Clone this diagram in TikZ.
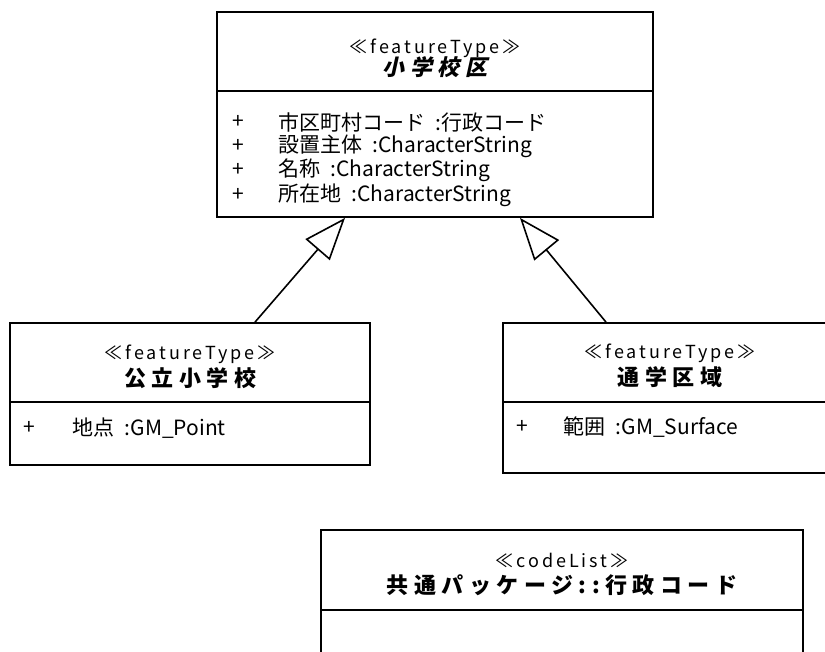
\documentclass[tikz,border=0pt]{standalone}
\usepackage{fontspec}
\setmainfont{Noto Sans CJK JP}
\newfontfamily\slantfont{Noto Sans CJK JP}[FakeSlant=0.22]
\usetikzlibrary{arrows.meta}
\begin{document}
\begin{tikzpicture}[x=1pt, y=1pt,
  classbox/.style={draw, line width=1.8pt, inner sep=0pt},
  divider/.style={line width=1.8pt},
  stereo/.style={inner sep=0pt, font=\fontsize{18}{18}\selectfont\addfontfeature{LetterSpace=16}},
  title/.style={inner sep=0pt, font=\fontsize{22}{22}\selectfont\bfseries\addfontfeature{LetterSpace=25}},
  abstitle/.style={inner sep=0pt, font=\fontsize{22}{22}\slantfont\bfseries\addfontfeature{LetterSpace=25}},
  plus/.style={inner sep=0pt, font=\fontsize{21}{21}\selectfont},
  attr/.style={inner sep=0pt, anchor=west, font=\fontsize{21}{21}\selectfont},
  generalize/.style={line width=1.6pt, -{Triangle[open, length=42pt, width=32pt]}}]
\useasboundingbox (0,0) rectangle (825,-651);
\clip (0,0) rectangle (825,-651);
% class boxes
\node[classbox, minimum width=436pt, minimum height=205pt] (district) at (435,-114.5) {};
\node[classbox, minimum width=360pt, minimum height=142pt] (school) at (190,-394) {};
\node[classbox, minimum width=334pt, minimum height=150pt] (zone) at (670,-398) {};
\node[classbox, minimum width=482pt, minimum height=170pt] (code) at (562,-615) {};
\draw[divider] ([yshift=-80pt]district.north west) -- ([yshift=-80pt]district.north east);
\draw[divider] ([yshift=-80pt]school.north west) -- ([yshift=-80pt]school.north east);
\draw[divider] ([yshift=-80pt]zone.north west) -- ([yshift=-80pt]zone.north east);
\draw[divider] ([yshift=-81pt]code.north west) -- ([yshift=-81pt]code.north east);
% headers
\node[stereo] (district-st) at (435,-48) {≪featureType≫};
\node[abstitle] (district-name) at (435,-67) {小学校区};
\node[stereo] (school-st) at (190,-354) {≪featureType≫};
\node[title] (school-name) at (190,-378) {公立小学校};
\node[stereo] (zone-st) at (670,-353) {≪featureType≫};
\node[title] (zone-name) at (670,-377) {通学区域};
\node[stereo] (code-st) at (562,-560) {≪codeList≫};
\node[title] (code-name) at (562,-585) {共通パッケージ::行政コード};
% attributes
\foreach \y/\txt in {122/市区町村コード\enspace:行政コード, 146/設置主体\enspace:CharacterString, 170/名称\enspace:CharacterString, 195/所在地\enspace:CharacterString}{
  \node[plus] at (238,-\y) {+};
  \node[attr] at (278,-\y) {\txt};
}
\node[plus] (school-plus) at (29,-428) {+};
\node[attr] (school-attr) at (72,-428) {地点\enspace:GM\_Point};
\node[plus] (zone-plus) at (522,-427) {+};
\node[attr] (zone-attr) at (563,-427) {範囲\enspace:GM\_Surface};
% generalizations
\draw[generalize] ([xshift=65pt]school.north) -- ([xshift=-90pt]district.south);
\draw[generalize] ([xshift=-64pt]zone.north) -- ([xshift=85pt]district.south);
\end{tikzpicture}
\end{document}
